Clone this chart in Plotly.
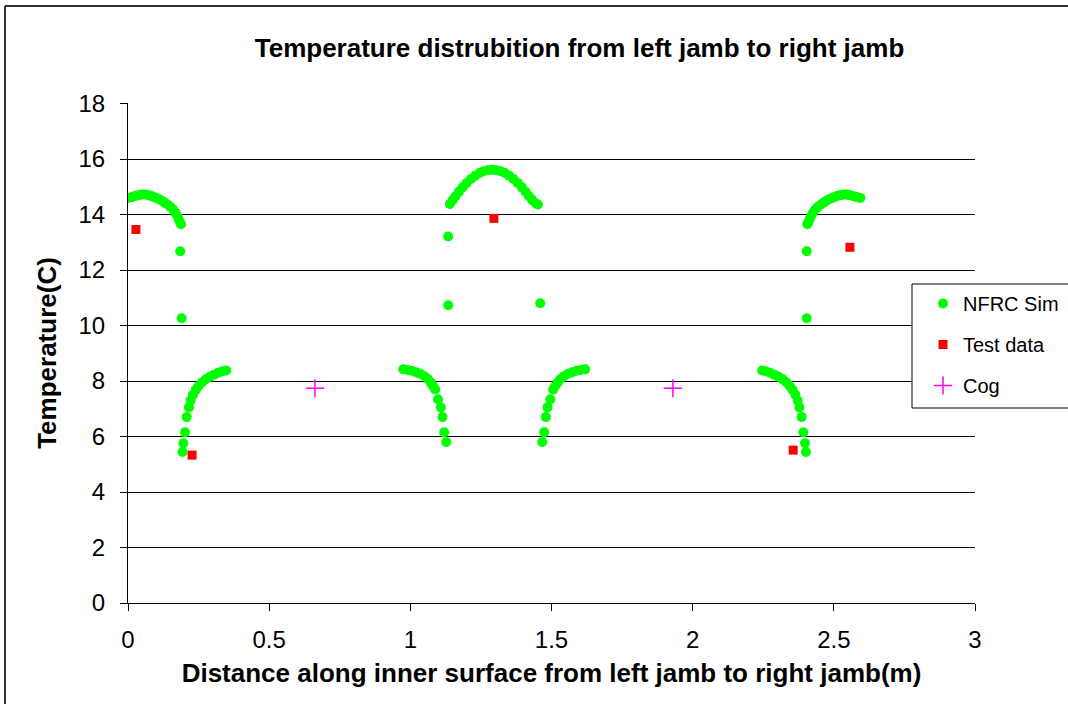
import plotly.graph_objects as go

# NFRC simulation points (x in m, y in C)
sim_x = [
    0.000, 0.010, 0.020, 0.030, 0.040, 0.050, 0.060, 0.070, 0.080, 0.090, 0.100,
    0.110, 0.120, 0.130, 0.140, 0.150, 0.160, 0.168, 0.175, 0.180, 0.185, 0.188,
    0.185, 0.190,
    0.193, 0.196, 0.202, 0.208, 0.216, 0.222, 0.230, 0.240, 0.250, 0.262, 0.275,
    0.290, 0.305, 0.320, 0.335, 0.348,
    0.975, 0.990, 1.005, 1.020, 1.035, 1.050, 1.062, 1.072, 1.080, 1.088, 1.098,
    1.108, 1.114, 1.120, 1.127,
    1.134, 1.134, 1.460,
    1.140, 1.150, 1.160, 1.172, 1.185, 1.200, 1.215, 1.230, 1.245, 1.260, 1.275,
    1.290, 1.305, 1.320, 1.335, 1.350, 1.365, 1.380, 1.395, 1.408, 1.420, 1.432,
    1.445, 1.452,
    1.467, 1.474, 1.480, 1.486, 1.496, 1.506, 1.514, 1.522, 1.532, 1.544, 1.559,
    1.574, 1.589, 1.604, 1.619,
    2.246, 2.259, 2.274, 2.289, 2.304, 2.319, 2.332, 2.344, 2.354, 2.364, 2.372,
    2.378, 2.386, 2.392, 2.398, 2.401,
    2.404, 2.404,
    2.406, 2.409, 2.414, 2.419, 2.426, 2.434, 2.444, 2.454, 2.464, 2.474, 2.484,
    2.494, 2.504, 2.514, 2.524, 2.534, 2.544, 2.554, 2.564, 2.574, 2.584, 2.594,
]
sim_y = [
    14.60, 14.62, 14.65, 14.68, 14.70, 14.72, 14.72, 14.70, 14.68, 14.64, 14.60,
    14.55, 14.50, 14.43, 14.36, 14.28, 14.18, 14.06, 13.94, 13.82, 13.70, 13.65,
    12.68, 10.26,
    5.44, 5.76, 6.15, 6.70, 7.05, 7.30, 7.50, 7.68, 7.82, 7.95, 8.06,
    8.15, 8.23, 8.30, 8.35, 8.38,
    8.42, 8.40, 8.37, 8.32, 8.26, 8.17, 8.07, 7.95, 7.83, 7.70, 7.34,
    7.05, 6.70, 6.15, 5.80,
    13.21, 10.73, 10.80,
    14.38, 14.52, 14.66, 14.82, 14.98, 15.14, 15.28, 15.40, 15.50, 15.56, 15.60,
    15.61, 15.60, 15.56, 15.50, 15.40, 15.28, 15.14, 14.98, 14.82, 14.66, 14.52,
    14.40, 14.36,
    5.80, 6.15, 6.70, 7.05, 7.34, 7.70, 7.83, 7.95, 8.07, 8.17, 8.26,
    8.32, 8.37, 8.40, 8.42,
    8.38, 8.35, 8.30, 8.23, 8.15, 8.06, 7.95, 7.82, 7.68, 7.50, 7.30,
    7.05, 6.70, 6.15, 5.76, 5.44,
    12.68, 10.26,
    13.65, 13.70, 13.82, 13.94, 14.06, 14.18, 14.28, 14.36, 14.43, 14.50, 14.55,
    14.60, 14.64, 14.68, 14.70, 14.72, 14.72, 14.70, 14.68, 14.65, 14.62, 14.60,
]

# Test data
test_x = [0.028, 0.227, 1.296, 2.356, 2.557]
test_y = [13.46, 5.33, 13.86, 5.51, 12.82]

# Centre of glass
cog_x = [0.662, 1.930]
cog_y = [7.74, 7.74]

x_ticks = [0, 0.5, 1, 1.5, 2, 2.5, 3]
x_tick_labels = ["0", "0.5", "1", "1.5", "2", "2.5", "3"]
y_ticks = [0, 2, 4, 6, 8, 10, 12, 14, 16, 18]

FONT = "Liberation Sans, Arial, sans-serif"

fig = go.Figure()
fig.add_trace(go.Scatter(
    x=sim_x, y=sim_y, mode="markers", name="NFRC Sim", legendgroup="a",
    marker=dict(symbol="circle", size=10, color="#00FF00", line=dict(width=0)),
))
fig.add_trace(go.Scatter(
    x=test_x, y=test_y, mode="markers", name="Test data", legendgroup="b",
    marker=dict(symbol="square", size=9, color="#FF0000", line=dict(width=0)),
))
fig.add_trace(go.Scatter(
    x=cog_x, y=cog_y, mode="markers", name="Cog", legendgroup="c",
    marker=dict(symbol="cross-thin", size=13, color="#FF00FF",
                line=dict(width=1.5, color="#FF00FF")),
))

frame_left = (5 - 128) / 847
frame_right = (1068 - 128) / 847
frame_top = (603 - 6) / 500
frame_bottom = (603 - 704) / 500

fig.update_layout(
    width=1068, height=704,
    paper_bgcolor="white", plot_bgcolor="white",
    margin=dict(l=128, r=93, t=103, b=101, autoexpand=False),
    font=dict(family=FONT, color="black"),
    title=dict(
        text="<b>Temperature distrubition from left jamb to right jamb</b>",
        x=579.5 / 1068, xanchor="center", xref="container",
        y=1 - 48 / 704, yanchor="middle", yref="container",
        font=dict(size=26, family=FONT, color="black"),
    ),
    xaxis=dict(
        range=[0, 3], tickvals=x_ticks, ticktext=x_tick_labels,
        showgrid=False, zeroline=False,
        showline=True, linecolor="black", linewidth=1,
        ticks="outside", ticklen=7, tickcolor="black",
        tickfont=dict(size=24, family=FONT),
        ticklabelstandoff=8,
        title=dict(text="<b>Distance along inner surface from left jamb to right jamb(m)</b>",
                   font=dict(size=26, family=FONT), standoff=12),
    ),
    yaxis=dict(
        range=[0, 18.02], tickvals=y_ticks,
        showgrid=True, gridcolor="black", gridwidth=1,
        zeroline=False,
        showline=True, linecolor="black", linewidth=1,
        ticks="outside", ticklen=7, tickcolor="black",
        tickfont=dict(size=24, family=FONT),
        ticklabelstandoff=10,
        title=dict(text="<b>Temperature(C)</b>", font=dict(size=26, family=FONT), standoff=14),
    ),
    legend=dict(
        x=(923 - 128) / 847, y=(603 - 284) / 500, xanchor="left", yanchor="top",
        borderwidth=0, bgcolor="rgba(0,0,0,0)",
        font=dict(size=20, family=FONT),
        tracegroupgap=12,
    ),
    shapes=[
        dict(type="line", xref="paper", yref="paper",
             x0=frame_left, x1=frame_right, y0=frame_top, y1=frame_top,
             line=dict(color="#333333", width=2), layer="below"),
        dict(type="line", xref="paper", yref="paper",
             x0=frame_left, x1=frame_left, y0=frame_bottom, y1=frame_top,
             line=dict(color="#333333", width=2), layer="below"),
        dict(
            type="rect", xref="paper", yref="paper",
            x0=(912 - 128) / 847, x1=frame_right + 0.01,
            y0=(603 - 408) / 500, y1=(603 - 284) / 500,
            line=dict(color="black", width=1), fillcolor="white", layer="above",
        ),
    ],
)

fig.write_html(
    "out.html",
    config={"displayModeBar": False},
    post_script=(
        "document.documentElement.style.overflow='hidden';"
        "document.body.style.margin='0';document.body.style.overflow='hidden';"
    ),
)
